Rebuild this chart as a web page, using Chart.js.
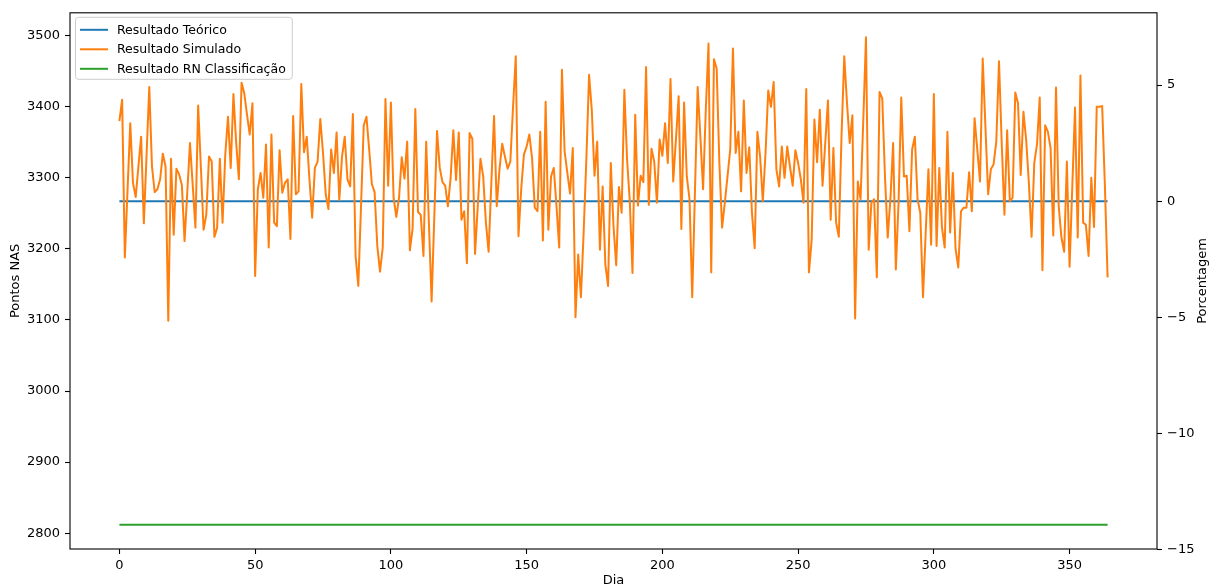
<!DOCTYPE html>
<html lang="pt-BR">
<head>
<meta charset="UTF-8">
<title>Pontos NAS por dia</title>
<script src="https://cdn.jsdelivr.net/npm/chart.js@4.4.1/dist/chart.umd.min.js"></script>
<style>
  html, body { margin: 0; padding: 0; background: #fff; }
  #caixaGrafico { width: 1209px; height: 587px; }
</style>
</head>
<body>
<div id="caixaGrafico"><canvas id="graficoNAS"></canvas></div>
<script>
// pontos NAS simulados, um valor por dia (dia 0 a 364)
const simulado = [
  3380, 3410, 3188, 3283, 3377, 3293, 3273, 3316, 3358, 3236, 3332, 3428, 3316, 3280, 3284,
  3298, 3334, 3316, 3099, 3327, 3220, 3313, 3305, 3290, 3211, 3280, 3349, 3290, 3230, 3402,
  3316, 3227, 3248, 3330, 3323, 3217, 3230, 3327, 3237, 3333, 3386, 3314, 3418, 3350, 3298,
  3434, 3419, 3389, 3361, 3405, 3162, 3284, 3307, 3272, 3347, 3202, 3361, 3237, 3232, 3339,
  3279, 3293, 3298, 3214, 3387, 3277, 3281, 3432, 3336, 3358, 3298, 3244, 3314, 3323, 3383,
  3335, 3277, 3256, 3340, 3307, 3364, 3269, 3330, 3358, 3298, 3288, 3390, 3190, 3148, 3260,
  3374, 3386, 3340, 3291, 3280, 3204, 3168, 3202, 3411, 3289, 3406, 3272, 3245, 3272, 3329,
  3299, 3351, 3198, 3229, 3397, 3252, 3248, 3190, 3351, 3237, 3126, 3246, 3366, 3314, 3294,
  3289, 3260, 3300, 3367, 3297, 3364, 3241, 3253, 3180, 3363, 3355, 3193, 3260, 3327, 3302,
  3237, 3196, 3293, 3387, 3260, 3312, 3348, 3330, 3313, 3323, 3400, 3471, 3218, 3284, 3333,
  3344, 3361, 3328, 3258, 3253, 3365, 3212, 3407, 3227, 3302, 3314, 3260, 3202, 3452, 3337,
  3307, 3278, 3342, 3104, 3192, 3132, 3223, 3326, 3445, 3396, 3303, 3351, 3199, 3288, 3178,
  3148, 3321, 3232, 3177, 3287, 3251, 3424, 3326, 3267, 3166, 3389, 3261, 3303, 3294, 3456,
  3262, 3341, 3323, 3265, 3354, 3331, 3377, 3321, 3439, 3295, 3354, 3415, 3228, 3406, 3302,
  3270, 3132, 3280, 3428, 3358, 3284, 3396, 3489, 3167, 3467, 3454, 3321, 3230, 3265, 3302,
  3340, 3482, 3335, 3365, 3281, 3409, 3307, 3343, 3251, 3201, 3365, 3330, 3267, 3335, 3423,
  3400, 3435, 3312, 3288, 3344, 3300, 3344, 3316, 3289, 3339, 3321, 3298, 3265, 3425, 3167,
  3213, 3382, 3322, 3396, 3289, 3349, 3409, 3241, 3342, 3237, 3217, 3360, 3471, 3406, 3349,
  3388, 3102, 3295, 3270, 3380, 3498, 3199, 3265, 3270, 3160, 3421, 3412, 3302, 3216, 3270,
  3349, 3171, 3265, 3413, 3302, 3303, 3225, 3340, 3358, 3270, 3251, 3132, 3223, 3312, 3206,
  3418, 3204, 3314, 3230, 3202, 3365, 3223, 3307, 3200, 3174, 3253, 3258, 3258, 3308, 3253,
  3384, 3340, 3295, 3468, 3372, 3277, 3312, 3319, 3351, 3464, 3349, 3248, 3367, 3267, 3272,
  3420, 3405, 3304, 3393, 3354, 3293, 3217, 3321, 3347, 3413, 3170, 3374, 3365, 3342, 3219,
  3427, 3260, 3216, 3196, 3323, 3175, 3288, 3399, 3216, 3444, 3237, 3234, 3190, 3300, 3231,
  3400, 3400, 3401, 3290, 3160
];
const teorico = 3267.2;
const rnClassificacao = 2812;

const ticksDia = [0, 50, 100, 150, 200, 250, 300, 350];
const ticksPontos = [2800, 2900, 3000, 3100, 3200, 3300, 3400, 3500];
const ticksPorcentagem = [-15, -10, -5, 0, 5];

const dias = simulado.map((_, i) => i);

// limites com 5% de margem, como no matplotlib
const todos = simulado.concat([teorico, rnClassificacao]);
const yMin = Math.min(...todos), yMax = Math.max(...todos);
const yLimMin = yMin - 0.05 * (yMax - yMin);
const yLimMax = yMax + 0.05 * (yMax - yMin);
const xLimMin = dias[0] - 0.05 * (dias[dias.length - 1] - dias[0]);
const xLimMax = dias[dias.length - 1] + 0.05 * (dias[dias.length - 1] - dias[0]);

function paraPorcentagem(v) {
  return (v - teorico) / teorico * 100;
}

const fonte = { family: "'DejaVu Sans', sans-serif", size: 13 };
const menos = (v) => String(v).replace('-', '\u2212');

function fixarTicks(valores) {
  return (scale) => { scale.ticks = valores.map((v) => ({ value: v })); };
}

// moldura completa e legenda dentro do gráfico
const moldura = {
  id: 'moldura',
  afterDraw(chart) {
    const { ctx, chartArea: a } = chart;
    ctx.save();
    ctx.strokeStyle = '#000';
    ctx.lineWidth = 1.1;
    ctx.strokeRect(a.left, a.top, a.right - a.left, a.bottom - a.top);

    // título do eixo da direita, lido de baixo para cima
    ctx.translate(1203, (a.top + a.bottom) / 2);
    ctx.rotate(-Math.PI / 2);
    ctx.font = "13px 'DejaVu Sans', sans-serif";
    ctx.fillStyle = '#000';
    ctx.textAlign = 'center';
    ctx.textBaseline = 'middle';
    ctx.fillText('Porcentagem', 0, 0);
    ctx.restore();

    const x0 = a.left + 5, y0 = a.top + 4;
    ctx.save();
    ctx.font = "12.5px 'DejaVu Sans', sans-serif";
    const larguraTexto = Math.max(...chart.data.datasets.map((d) => ctx.measureText(d.label).width));
    const w = 42 + larguraTexto + 6, h = 62;
    ctx.fillStyle = 'rgba(255,255,255,0.8)';
    ctx.strokeStyle = '#cccccc';
    ctx.lineWidth = 1;
    ctx.beginPath();
    ctx.roundRect(x0 + 0.5, y0 + 0.5, w, h, 3);
    ctx.fill();
    ctx.stroke();
    chart.data.datasets.forEach((ds, i) => {
      const y = y0 + 13 + i * 19.5;
      ctx.strokeStyle = ds.borderColor;
      ctx.lineWidth = ds.borderWidth;
      ctx.beginPath();
      ctx.moveTo(x0 + 5, y);
      ctx.lineTo(x0 + 33, y);
      ctx.stroke();
      ctx.fillStyle = '#000';
      ctx.textBaseline = 'middle';
      ctx.fillText(ds.label, x0 + 42, y + 0.5);
    });
    ctx.restore();
  }
};

const ctx = document.getElementById('graficoNAS').getContext('2d');
new Chart(ctx, {
  type: 'line',
  data: {
    datasets: [
      {
        label: 'Resultado Teórico',
        data: dias.map((d) => ({ x: d, y: teorico })),
        borderColor: '#1f77b4',
        borderWidth: 2,
        order: 1
      },
      {
        label: 'Resultado Simulado',
        data: dias.map((d, i) => ({ x: d, y: simulado[i] })),
        borderColor: '#ff7f0e',
        borderWidth: 2,
        order: 0
      },
      {
        label: 'Resultado RN Classificação',
        data: dias.map((d) => ({ x: d, y: rnClassificacao })),
        borderColor: '#2ca02c',
        borderWidth: 2,
        order: 0
      }
    ]
  },
  options: {
    responsive: true,
    maintainAspectRatio: false,
    animation: false,
    layout: { padding: { top: 12, left: 0, right: 0, bottom: 0 } },
    elements: {
      point: { radius: 0 },
      line: { tension: 0, borderJoinStyle: 'round', fill: false }
    },
    plugins: {
      legend: { display: false },
      tooltip: { enabled: false }
    },
    scales: {
      x: {
        type: 'linear',
        position: 'bottom',
        min: xLimMin,
        max: xLimMax,
        afterBuildTicks: fixarTicks(ticksDia),
        afterFit: (s) => { s.height = 38; },
        grid: { drawOnChartArea: false, color: '#000', tickLength: 5, tickWidth: 1.1 },
        border: { display: false },
        ticks: { font: fonte, color: '#000', padding: 4, maxRotation: 0, callback: (v) => menos(v) },
        title: { display: true, text: 'Dia', font: { ...fonte, lineHeight: 1 }, color: '#000', padding: { top: 0, bottom: 0 } }
      },
      y: {
        type: 'linear',
        position: 'left',
        min: yLimMin,
        max: yLimMax,
        afterBuildTicks: fixarTicks(ticksPontos),
        afterFit: (s) => { s.width = 70; },
        grid: { drawOnChartArea: false, color: '#000', tickLength: 5, tickWidth: 1.1 },
        border: { display: false },
        ticks: { font: fonte, color: '#000', padding: 5, callback: (v) => menos(v) },
        title: { display: true, text: 'Pontos NAS', font: { ...fonte, lineHeight: 1 }, color: '#000', padding: { top: 9.5, bottom: 0 } }
      },
      yPorcentagem: {
        type: 'linear',
        position: 'right',
        min: paraPorcentagem(yLimMin),
        max: paraPorcentagem(yLimMax),
        afterBuildTicks: fixarTicks(ticksPorcentagem),
        afterFit: (s) => { s.width = 52; },
        grid: { drawOnChartArea: false, color: '#000', tickLength: 5, tickWidth: 1.1 },
        border: { display: false },
        ticks: { font: fonte, color: '#000', padding: 5, callback: (v) => menos(v) }
      }
    }
  },
  plugins: [moldura]
});
</script>
</body>
</html>
